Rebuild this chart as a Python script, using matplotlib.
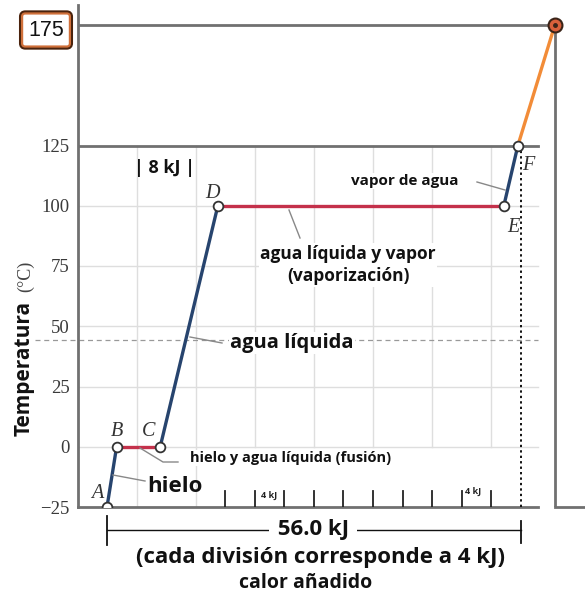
import matplotlib
matplotlib.use("Agg")
import matplotlib.pyplot as plt

# ---- data ----
point_labels = ["A", "B", "C", "D", "E", "F"]
heat_kj = [0.0, 1.3, 7.2, 15.0, 53.7, 55.6, 60.6]
temp_c = [-25, 0, 0, 100, 100, 125, 175]
segment_colors = ["#27446e", "#c4314b", "#27446e", "#c4314b", "#27446e", "#f28c38"]
ytick_values = [-25, 0, 25, 50, 75, 100, 125]
grid_x = [4, 12, 20, 28, 36, 44, 52]
bottom_ticks = [16, 20, 24, 28, 32, 36, 40, 44, 48, 52]
total_heat = 56.0

W, H = 585, 596
fig = plt.figure(figsize=(W / 100, H / 100), dpi=100)

# pixel mapping helpers
X0, XS = 107, 7.39      # px of 0 kJ, px per kJ
Y0, YS = 507, 2.41      # px of -25 C, px per C
def kx(px):
    return (px - X0) / XS
def ty(py):
    return -25 + (Y0 - py) / YS

ax_left, ax_right, ax_top, ax_bot = 78, 585, 5, 507
ax = fig.add_axes([ax_left / W, (H - ax_bot) / H, (ax_right - ax_left) / W, (ax_bot - ax_top) / H])
ax.set_xlim(kx(ax_left), kx(ax_right))
ax.set_ylim(ty(ax_bot), ty(ax_top))
for s in ["top", "right", "bottom"]:
    ax.spines[s].set_visible(False)
ax.spines["left"].set_color("#707070")
ax.spines["left"].set_linewidth(2)
ax.set_xticks([])
ax.set_yticks(ytick_values)
ax.set_yticklabels([str(v).replace("-", "\u2212") for v in ytick_values],
                   family="Liberation Serif", fontsize=13.5, color="#3a3a3a")
ax.tick_params(axis="y", length=0, pad=6)

spine_c = "#707070"
xl = kx(ax_left)
# grid
grid_c = "#dedede"
for v in [0, 25, 50, 75, 100]:
    ax.plot([xl, kx(538)], [v, v], color=grid_c, lw=1, zorder=0)
for g in grid_x:
    y_lo = -25 if g < 16 else 0
    ax.plot([g, g], [y_lo, 125], color=grid_c, lw=1, zorder=0)

# frame lines
ax.plot([xl, kx(538)], [-25, -25], color=spine_c, lw=2, clip_on=False, zorder=2)
ax.plot([kx(555), kx(585)], [-25, -25], color=spine_c, lw=2, clip_on=False, zorder=2)
ax.plot([xl, kx(538)], [125, 125], color=spine_c, lw=2, zorder=2)
ax.plot([xl, kx(555)], [175, 175], color=spine_c, lw=2, zorder=2)
ax.plot([kx(555), kx(555)], [-25, 175], color=spine_c, lw=2, zorder=2)

# dashed line
ax.plot([kx(35), kx(538)], [ty(340), ty(340)], color="#999999", lw=0.9,
        ls=(0, (4, 3)), clip_on=False, zorder=1)

# bottom ticks
for t in bottom_ticks:
    ax.plot([t, t], [-25, ty(491)], color="#222222", lw=1.3, zorder=2)
for xp, yp in [(269, 495), (473, 491)]:
    ax.text(kx(xp), ty(yp), "4 kJ", fontsize=6.5, fontweight="bold",
            family="Open Sans", ha="center", va="center", color="#222222")

# dotted line at total
ax.plot([total_heat, total_heat], [-25, 125], color="#111111", lw=1.4,
        ls=(0, (1.2, 1.6)), zorder=2)

# heating curve
for i in range(len(heat_kj) - 1):
    ax.plot(heat_kj[i:i + 2], temp_c[i:i + 2], color=segment_colors[i],
            lw=2.4, solid_capstyle="round", zorder=3)
ax.plot(heat_kj[:6], temp_c[:6], ls="none", marker="o", ms=7, mfc="white",
        mec="#333333", mew=1.3, zorder=4)
ax.plot([heat_kj[6]], [temp_c[6]], ls="none", marker="o", ms=10, mfc="#d9603b",
        mec="#3a2418", mew=1.5, zorder=5, clip_on=False)
ax.plot([heat_kj[6]], [temp_c[6]], ls="none", marker="o", ms=2.5, mfc="#3a2418",
        mec="#3a2418", zorder=6, clip_on=False)

# point labels
lab_px = [(97, 494), (117, 432), (149, 432), (212, 193), (513, 227), (528, 166)]
for lab, (xp, yp) in zip(point_labels, lab_px):
    ax.text(kx(xp), ty(yp), lab, family="Liberation Serif", style="italic",
            fontsize=14.5, ha="center", va="center", color="#333333", zorder=6)

# leader lines
lead_c = "#888888"
leaders = [
    [(113, 475), (145, 481)],
    [(140, 448), (163, 462), (178, 462)],
    [(190, 337), (222, 343)],
    [(289, 210), (300, 238)],
    [(477, 182), (505, 190)],
]
for pts in leaders:
    ax.plot([kx(p[0]) for p in pts], [ty(p[1]) for p in pts], color=lead_c,
            lw=1, zorder=3)

bb = dict(facecolor="white", edgecolor="none", pad=1)
tf = dict(family="Open Sans", fontweight="bold", color="#111111", zorder=5)
ax.text(kx(230), ty(343), "agua líquida", fontsize=14.5, ha="left", va="center", bbox=bb, **tf)
ax.text(kx(147), ty(486), "hielo", fontsize=16, ha="left", va="center", **tf)
ax.text(kx(190), ty(458), "hielo y agua líquida (fusión)", fontsize=10.5, ha="left",
        va="center", bbox=bb, **tf)
ax.text(kx(348), ty(265), "agua líquida y vapor\n(vaporización)", fontsize=12.5,
        ha="center", va="center", linespacing=1.35, bbox=bb, **tf)
ax.text(kx(405), ty(181), "vapor de agua", fontsize=11, ha="center", va="center", bbox=bb, **tf)
ax.text(kx(165), ty(168), "| 8 kJ |", fontsize=13, ha="center", va="center", **tf)

# 175 box label
ax.text(kx(46), ty(30), "175", fontsize=15.5, family="Liberation Sans", ha="center",
        va="center", color="#111111", clip_on=False, zorder=7,
        bbox=dict(boxstyle="round,pad=0.28,rounding_size=0.15", facecolor="white",
                  edgecolor="#4a230d", lw=4.5))
ax.text(kx(46), ty(30), "175", fontsize=15.5, family="Liberation Sans", ha="center",
        va="center", color="#111111", clip_on=False, zorder=8,
        bbox=dict(boxstyle="round,pad=0.28,rounding_size=0.15", facecolor="white",
                  edgecolor="#d0703a", lw=1.6))

# y label
fig.text(24 / W, 1 - 368 / H, "Temperatura", rotation=90, fontsize=15,
         family="Open Sans", fontweight="bold", ha="center", va="center", color="#111111")
fig.text(26 / W, 1 - 276 / H, "(°C)", rotation=90, fontsize=13,
         family="Liberation Serif", ha="center", va="center", color="#444444")

# bottom dimension line
yd = ty(530)
ax.plot([0, total_heat], [yd, yd], color="#111111", lw=1, clip_on=False)
ax.plot([0, 0], [ty(516), ty(545)], color="#111111", lw=1.3, clip_on=False)
ax.plot([total_heat, total_heat], [ty(521), ty(543)], color="#111111", lw=1.3, clip_on=False)
ax.text(kx(313), yd, " 56.0 kJ ", fontsize=16, ha="center", va="center", clip_on=False,
        bbox=dict(facecolor="white", edgecolor="none", pad=2), **tf)
ax.text(kx(321), ty(557), "(cada división corresponde a 4 kJ)", fontsize=16,
        ha="center", va="center", clip_on=False, **tf)
ax.text(kx(306), ty(583), "calor añadido", fontsize=14, ha="center", va="center",
        clip_on=False, **tf)

fig.savefig("out.png", dpi=100)
